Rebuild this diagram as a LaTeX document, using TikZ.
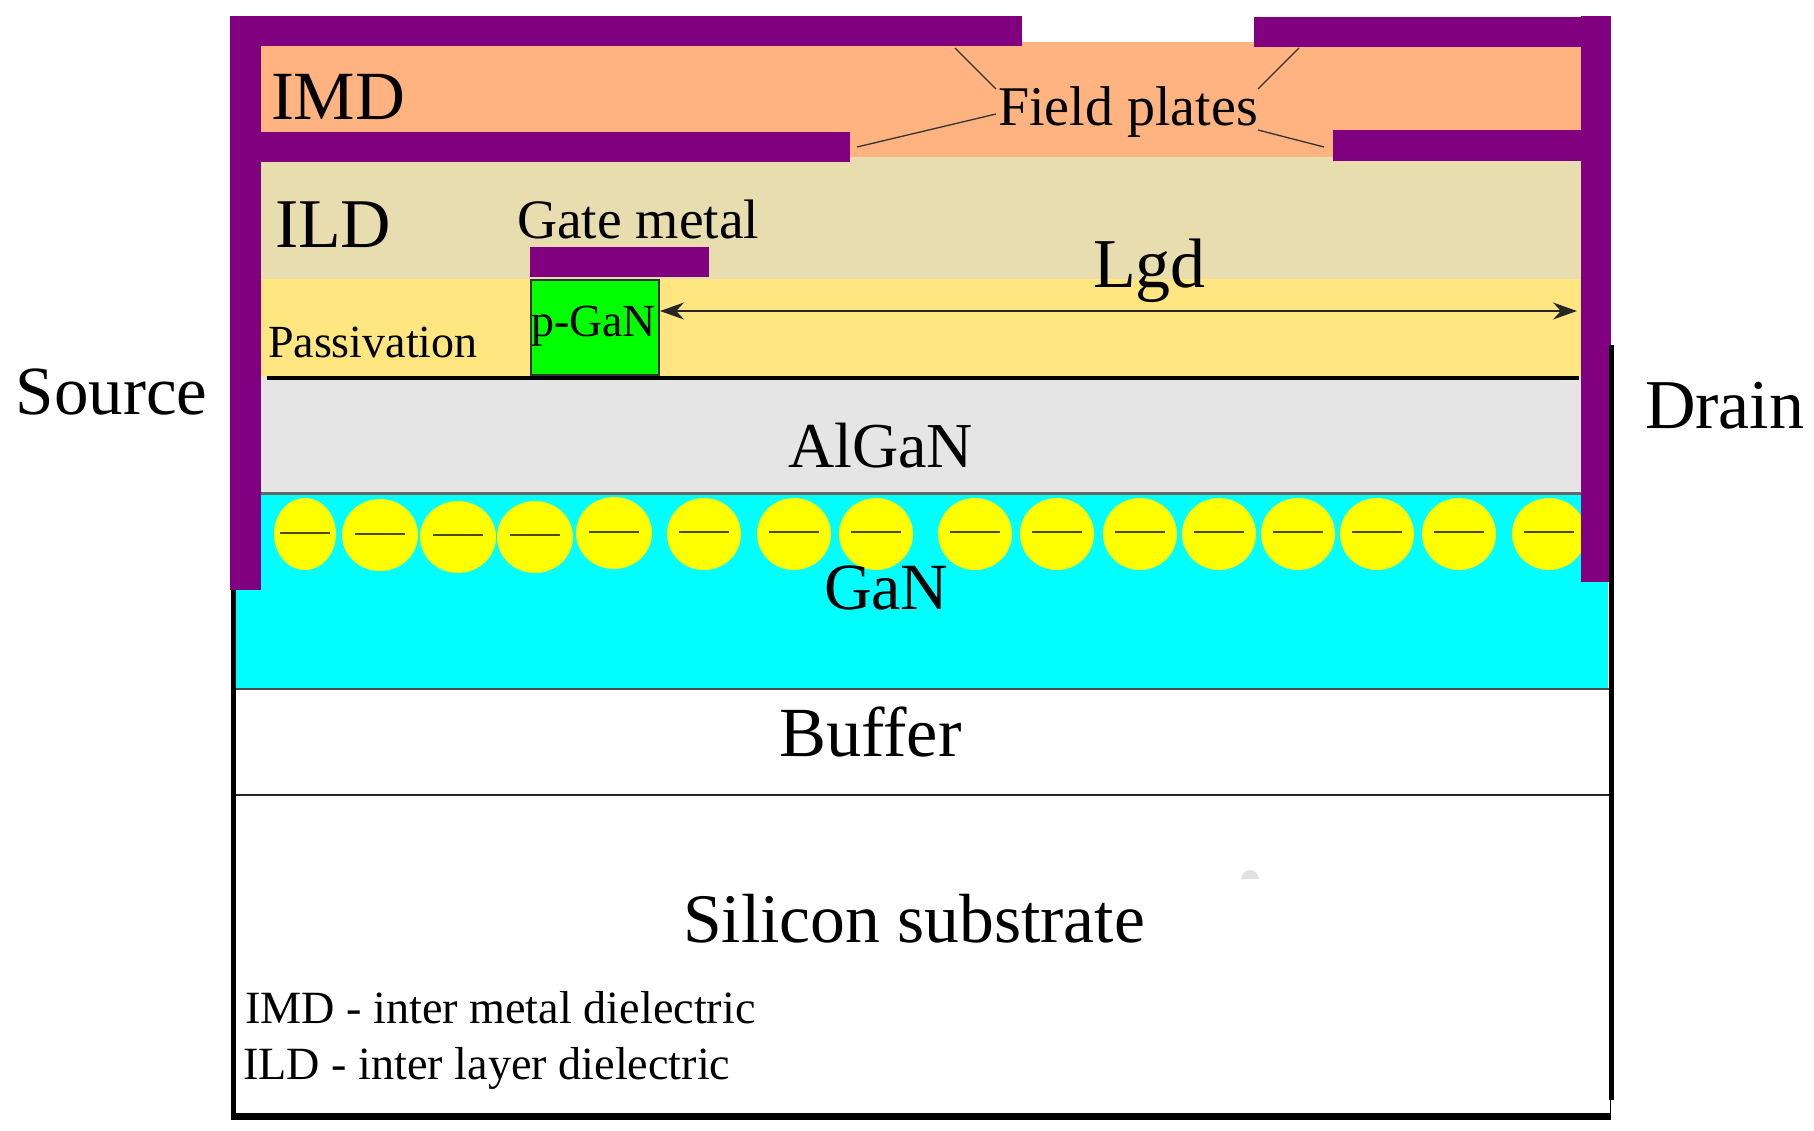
\documentclass[tikz,border=0pt]{standalone}
\usepackage{fontspec}
\setmainfont{Liberation Serif}
\usetikzlibrary{arrows.meta}
\definecolor{metal}{HTML}{800080}
\definecolor{imdc}{HTML}{FFB380}
\definecolor{ildc}{HTML}{E8DDAF}
\definecolor{passc}{HTML}{FFE680}
\definecolor{algan}{HTML}{E5E5E5}
\definecolor{gan}{HTML}{00FFFF}
\definecolor{carrier}{HTML}{FFFF00}
\definecolor{pgan}{HTML}{00FF00}
\newcommand{\fs}[1]{\fontsize{#1}{#1}\selectfont}
\tikzset{
  x=1pt,y=-1pt,
  lbl/.style={anchor=base west,inner sep=0pt,outer sep=0pt,text=black,font=\fs{#1}},
  lead/.style={draw=black!80,line width=1.3pt}
}
\begin{document}
\begin{tikzpicture}
\useasboundingbox (0,0) rectangle (1814,1130);
% layers
\fill[imdc] (261,42) rectangle (1581,157);
\fill[ildc] (261,157) rectangle (1581,279);
\fill[passc] (261,279) rectangle (1581,377);
\fill[algan] (261,377) rectangle (1581,493);
\fill[gan] (236,494) rectangle (1608,689);
% carriers
\foreach \cx/\rx/\ry/\cy/\dy in {
  305/31/36/534/533, 380/38/36/535/534, 458/38/36/537/535, 535/38/36/537/535,
  614/38/36/533/532, 704/37/36/534/532, 794/37/36/534/532, 876/37/36/534/532,
  975/37/36/534/532, 1057/37/36/534/532, 1140/37/36/534/532, 1219/37/36/534/532,
  1298/37/36/534/532, 1377/37/36/534/532, 1459/37/36/534/532, 1549/37/36/534/532}{
  \fill[carrier] (\cx,\cy) ellipse [x radius=\rx,y radius=\ry];
  \draw[line width=2.4pt,black!70!carrier] (\cx-25,\dy) -- (\cx+25,\dy);
}
% separators and outline
\draw[line width=3pt,black!60] (261,493) -- (1581,493);
\draw[line width=2.5pt,black!70] (236,689) -- (1610,689);
\draw[line width=2.8pt,black!85] (236,795) -- (1610,795);
\draw[line width=5.5pt,black] (233.5,590) -- (233.5,1116);
\draw[line width=7pt,black] (231,1116.5) -- (1611,1116.5);
\draw[line width=1pt,black] (1610,1100) -- (1610,1116);
\draw[line width=3.5pt,black] (267,378) -- (1579,378);
% metal
\fill[metal] (230,16) rectangle (1022,46);
\fill[metal] (230,16) rectangle (261,590);
\fill[metal] (230,132) rectangle (850,162);
\fill[metal] (530,247) rectangle (709,277);
\fill[metal] (1254,17) rectangle (1581,47);
\fill[metal] (1581,16) rectangle (1611,582);
\fill[metal] (1333,130) rectangle (1581,161);
\draw[line width=4.5pt,black] (1611.5,345) -- (1611.5,1100);
% p-GaN
\node[draw=black!80,line width=2pt,fill=pgan,minimum width=128pt,minimum height=95pt,inner sep=0pt,anchor=north west] (pg) at (530,279) {};
\fill[black!12] (1241,879) .. controls (1243,867) and (1257,867) .. (1259,879) -- cycle;
% labels
\node[lbl=69] (imd) at (271,119) {IMD};
\node[lbl=69.8] (ild) at (275,247) {ILD};
\node[lbl=55.6] (gate) at (517,238) {Gate metal};
\node[lbl=46] (pass) at (268,357) {Passivation};
\node[lbl=46] (pt) at (531,336) {p-GaN};
\node[lbl=70] (lgd) at (1093,287) {Lgd};
\node[lbl=56] (fp) at (998,125) {Field plates};
\node[lbl=69] (src) at (16,414) {Source};
\node[lbl=70] (drn) at (1645,428) {Drain};
\node[lbl=64] (alg) at (788,467) {AlGaN};
\node[lbl=66] (gn) at (824,609) {GaN};
\node[lbl=70.5] (buf) at (779,756) {Buffer};
\node[lbl=69.6] (si) at (683,942) {Silicon substrate};
\node[lbl=46.2] (n1) at (245,1023) {IMD - inter metal dielectric};
\node[lbl=46.2] (n2) at (243,1079) {ILD - inter layer dielectric};
% field plate leaders
\coordinate (fa) at (955,48);
\coordinate (fb) at (996,89);
\coordinate (fc) at (1299,48);
\coordinate (fd) at (1258,89);
\coordinate (fe) at (857,147);
\coordinate (ff) at (996,114);
\coordinate (fg) at (1258,130);
\coordinate (fh) at (1324,147);
\draw[lead] (fa) -- (fb);
\draw[lead] (fc) -- (fd);
\draw[lead] (fe) -- (ff);
\draw[lead] (fg) -- (fh);
% Lgd dimension
\coordinate (rt) at (1577,311);
\draw[line width=1.8pt,black!85,{Stealth[length=24pt,width=17pt]}-{Stealth[length=24pt,width=17pt]}] (pg.east |- rt) -- (rt);
\end{tikzpicture}
\end{document}
